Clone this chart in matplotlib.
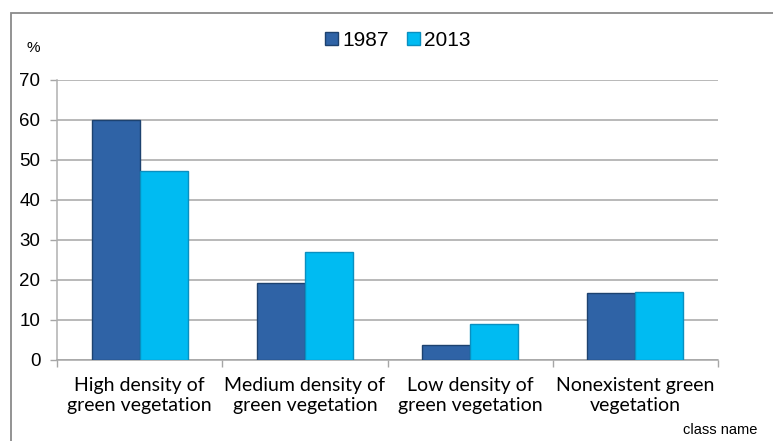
import numpy as np
import matplotlib
matplotlib.use("Agg")
import matplotlib.pyplot as plt
from matplotlib.patches import Rectangle, Patch

# data
categories = ["High density of\ngreen vegetation",
              "Medium density of\ngreen vegetation",
              "Low density of\ngreen vegetation",
              "Nonexistent green\nvegetation"]
years = ["1987", "2013"]
v1987 = [60.0, 19.3, 3.7, 16.8]
v2013 = [47.3, 27.0, 8.9, 16.9]

col1987 = "#2f63a6"
edge1987 = "#1d426f"
col2013 = "#00bbf2"
edge2013 = "#0a8fc0"

W, H = 773, 441
fig = plt.figure(figsize=(W / 100, H / 100), dpi=100)
fig.patch.set_facecolor("white")

# outer chart frame (runs off right/bottom edge)
fig.patches.append(Rectangle((11 / W, -0.1), 1.2, (H - 13) / H + 0.1,
                             transform=fig.transFigure, fill=False,
                             edgecolor="#8a8a8a", lw=1.3, zorder=0))

ax = fig.add_axes([57 / W, (H - 360) / H, (718 - 57) / W, 280 / H])
x = np.arange(len(categories))
bw = 0.29
ax.bar(x - bw / 2, v1987, bw, color=col1987, edgecolor=edge1987, lw=1.0, zorder=3)
ax.bar(x + bw / 2, v2013, bw, color=col2013, edgecolor=edge2013, lw=1.0, zorder=3)

ax.set_xlim(-0.5, len(categories) - 0.5)
ax.set_ylim(0, 70)
ax.set_yticks(np.arange(0, 71, 10))
ax.yaxis.grid(True, color="#a6a6a6", lw=1.1, zorder=0)
ax.set_axisbelow(True)
for s in ["top", "right"]:
    ax.spines[s].set_visible(False)
ax.spines["left"].set_color("#b0b0b0")
ax.spines["bottom"].set_color("#a6a6a6")
ax.spines["left"].set_linewidth(1.1)
ax.spines["bottom"].set_linewidth(1.1)

ax.tick_params(axis="y", length=5, width=1, color="#a6a6a6", pad=7,
               labelsize=13.5, labelfontfamily="Liberation Sans")
# category boundaries carry the x tick marks
ax.set_xticks(np.arange(-0.5, len(categories)), minor=False)
ax.set_xticklabels([])
ax.tick_params(axis="x", which="major", length=5, width=1, color="#a6a6a6")
ax.set_xticks(x, minor=True)
ax.set_xticklabels(categories, minor=True, fontsize=14, family="Lato",
                   linespacing=1.25)
ax.tick_params(axis="x", which="minor", length=0, pad=12)

fig.text(33 / W, 1 - 48 / H, "%", ha="center", va="center", fontsize=11,
         family="Liberation Sans")
fig.text(720 / W, 1 - 430 / H, "class name", ha="center", va="center",
         fontsize=10.5, family="Liberation Sans")

handles = [Patch(facecolor=col1987, edgecolor=edge1987),
           Patch(facecolor=col2013, edgecolor=edge2013)]
fig.legend(handles, years, loc="center", bbox_to_anchor=(398 / W, 1 - 40 / H),
           ncol=2, frameon=False, prop={"family": "Liberation Sans", "size": 15},
           handlelength=0.6, handleheight=0.6, handletextpad=0.2,
           columnspacing=0.9)

fig.savefig("out.png", dpi=100)
